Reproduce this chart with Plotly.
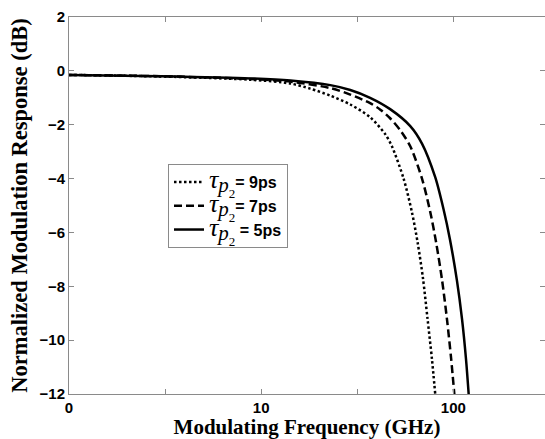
import plotly.graph_objects as go

# Data (frequency in GHz, response in dB)
f_9ps = [1, 3, 8.8, 14.2, 18.0, 22.9, 29.1, 36.9, 44.2, 47.9, 55.1, 60.9, 65.3, 69.5, 73.4, 77.4, 80.5]
r_9ps = [-0.15, -0.21, -0.33, -0.47, -0.66, -0.92, -1.25, -1.72, -2.35, -2.8, -4.0, -5.25, -6.4, -7.7, -9.2, -10.7, -12.0]

f_7ps = [1, 3, 8.8, 14.2, 22.9, 29.1, 36.9, 41.7, 46.9, 52.9, 59.7, 68.7, 75.9, 81.5, 87.3, 92.6, 97.3, 101.2]
r_7ps = [-0.15, -0.2, -0.3, -0.4, -0.64, -0.88, -1.2, -1.44, -1.76, -2.2, -2.8, -4.0, -5.25, -6.4, -7.75, -9.2, -10.65, -12.0]

f_5ps = [1, 3, 8.8, 14.2, 22.9, 29.1, 36.9, 46.9, 59.7, 68.7, 80.5, 89.0, 96.0, 104.5, 111.0, 116.4, 120.2]
r_5ps = [-0.15, -0.2, -0.28, -0.36, -0.53, -0.71, -1.0, -1.42, -2.05, -2.7, -3.95, -5.15, -6.25, -7.8, -9.22, -10.7, -12.0]

x_tickvals = [1, 3.1623, 10, 31.623, 100, 316.23]
x_ticktext = ["0", "", "10", "", "100", ""]
y_tickvals = [2, 0, -2, -4, -6, -8, -10, -12]

SERIF = "font-family:Liberation Serif;font-weight:normal;"

def lbl(v):
    return (f'<span style="{SERIF}font-style:italic;font-size:26px">τ</span>'
            f'<span style="{SERIF}font-style:italic;font-size:21px;baseline-shift:-4px">p</span>'
            f'<span style="{SERIF}font-size:13px;baseline-shift:-10px">2</span>'
            + v)

fig = go.Figure()
fig.add_trace(go.Scatter(x=f_9ps, y=r_9ps, mode="lines", name=lbl("= 9ps"),
                         line=dict(color="black", width=2.5, dash="2.5px,2.5px", shape="spline", smoothing=0.8)))
fig.add_trace(go.Scatter(x=f_7ps, y=r_7ps, mode="lines", name=lbl("= 7ps"),
                         line=dict(color="black", width=2.5, dash="8px,4px", shape="spline", smoothing=0.8)))
fig.add_trace(go.Scatter(x=f_5ps, y=r_5ps, mode="lines", name=lbl(" = 5ps"),
                         line=dict(color="black", width=2.5, shape="spline", smoothing=0.8)))

axis_common = dict(showline=True, linecolor="#8a8a8a", linewidth=1, mirror="ticks",
                   ticks="inside", ticklen=5, tickcolor="#8a8a8a", showgrid=False, zeroline=False,
                   tickfont=dict(family="Liberation Sans", size=15, color="black", weight="bold"))

fig.update_layout(
    width=545, height=439,
    margin=dict(l=69, r=0, t=17, b=45),
    paper_bgcolor="white", plot_bgcolor="white",
    showlegend=True,
    legend=dict(x=0.208, y=0.61, xanchor="left", yanchor="top",
                bgcolor="white", bordercolor="#8a8a8a", borderwidth=1,
                font=dict(family="Liberation Sans", size=16, color="black", weight="bold"),
                tracegroupgap=0, itemwidth=30),
    xaxis=dict(type="log", range=[0, 2.4771], tickvals=x_tickvals, ticktext=x_ticktext,
               title=dict(text="Modulating Frequency (GHz)", standoff=2,
                          font=dict(family="Liberation Serif", size=21, color="black", weight="bold")),
               **axis_common),
    yaxis=dict(range=[-12, 2], tickvals=y_tickvals,
               title=dict(text="Normalized Modulation Response (dB)", standoff=5,
                          font=dict(family="Liberation Serif", size=22.5, color="black", weight="bold")),
               **axis_common),
)

fig.write_html("out.html")
